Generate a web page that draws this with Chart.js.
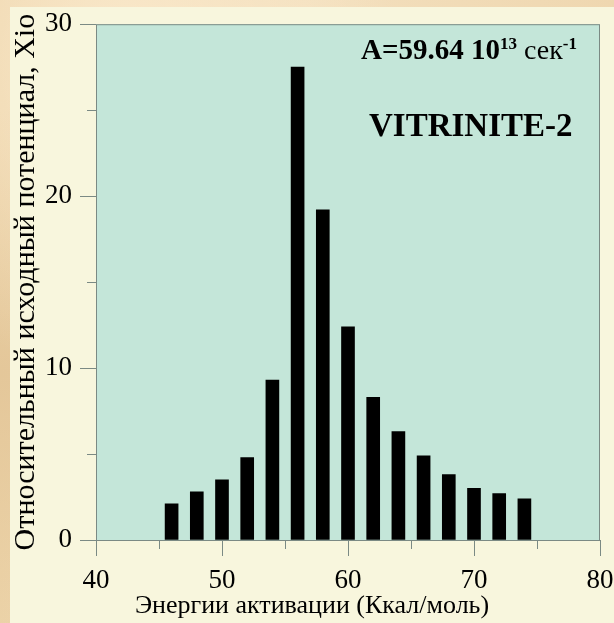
<!DOCTYPE html>
<html lang="ru">
<head>
  <meta charset="UTF-8">
  <title>VITRINITE-2</title>
  <script src="https://cdn.jsdelivr.net/npm/chart.js"></script>
  <style>
    html, body {
      margin: 0;
      padding: 0;
    }
    body {
      width: 614px;
      height: 623px;
      overflow: hidden;
      position: relative;
      background:
        radial-gradient(ellipse at 20% 10%, rgba(255,240,215,0.7), rgba(255,240,215,0) 40%),
        radial-gradient(ellipse at 0% 60%, rgba(226,196,150,0.8), rgba(226,196,150,0) 50%),
        linear-gradient(90deg, #ecd3a8, #f3dfbd 50%, #efd7b0);
    }
    .panel {
      position: absolute;
      left: 10px;
      top: 7px;
      right: 0;
      bottom: 0;
      background: #f8f6dd;
    }
    #chart {
      position: absolute;
      left: 0;
      top: 0;
    }
  </style>
</head>
<body>
  <div class="panel"></div>
  <canvas id="chart" width="614" height="623"></canvas>

  <script>
    // energies (kcal/mol) and relative initial potential
    const energies = [46, 48, 50, 52, 54, 56, 58, 60, 62, 64, 66, 68, 70, 72, 74];
    const potentials = [2.1, 2.8, 3.5, 4.8, 9.3, 27.5, 19.2, 12.4, 8.3, 6.3, 4.9, 3.8, 3.0, 2.7, 2.4];

    const xLabelTicks = [40, 50, 60, 70, 80];
    const yLabelTicks = [0, 10, 20, 30];

    const serif = '"Liberation Serif", "Times New Roman", serif';
    const axisGrey = '#7b8a84';

    const plotBox = {
      id: 'plotBox',
      beforeDraw(chart) {
        const { ctx, chartArea: a } = chart;
        ctx.save();
        ctx.fillStyle = '#c4e6d9';
        ctx.fillRect(a.left, a.top, a.right - a.left, a.bottom - a.top);
        ctx.restore();
      },
      afterDraw(chart) {
        const { ctx, chartArea: a, scales } = chart;
        ctx.save();
        ctx.strokeStyle = axisGrey;
        ctx.lineWidth = 1;
        ctx.strokeRect(a.left + 0.5, a.top + 0.5, a.right - a.left - 1, a.bottom - a.top);

        // short minor ticks
        ctx.beginPath();
        for (let v = 45; v < 80; v += 10) {
          const x = Math.round(scales.x.getPixelForValue(v)) + 0.5;
          ctx.moveTo(x, a.bottom);
          ctx.lineTo(x, a.bottom + 9);
        }
        for (let v = 5; v < 30; v += 10) {
          const y = Math.round(scales.y.getPixelForValue(v)) + 0.5;
          ctx.moveTo(a.left, y);
          ctx.lineTo(a.left - 9, y);
        }
        ctx.stroke();

        ctx.fillStyle = '#000';
        ctx.textBaseline = 'alphabetic';

        // x axis title
        ctx.font = '26px ' + serif;
        ctx.textAlign = 'center';
        ctx.fillText('Энергии активации (Ккал/моль)', 312, 613);

        // annotation
        ctx.textAlign = 'left';
        let x = 361;
        const y = 59;
        const parts = [
          ['A=59.64 10', 'bold 29px ' + serif, 0],
          ['13', 'bold 17px ' + serif, -10],
          [' сек', '28px ' + serif, 0],
          ['-1', 'bold 17px ' + serif, -10]
        ];
        parts.forEach(([t, f, dy]) => {
          ctx.font = f;
          ctx.fillText(t, x, y + dy);
          x += ctx.measureText(t).width;
        });
        ctx.font = 'bold 33px ' + serif;
        ctx.fillText('VITRINITE-2', 369, 136);
        ctx.restore();
      }
    };

    const tickColor = ctx => (ctx.tick && ctx.tick.value % 10 === 0) ? axisGrey : 'rgba(0,0,0,0)';

    new Chart(document.getElementById('chart'), {
      type: 'bar',
      data: {
        datasets: [{
          data: energies.map((e, i) => ({ x: e, y: potentials[i] })),
          backgroundColor: '#000',
          borderWidth: 0,
          barThickness: 13
        }]
      },
      options: {
        responsive: false,
        animation: false,
        layout: { padding: { top: 22, right: 14, left: 0, bottom: 29 } },
        plugins: {
          legend: { display: false },
          tooltip: { enabled: false }
        },
        scales: {
          x: {
            type: 'linear',
            min: 40,
            max: 80,
            offset: false,
            border: { display: false },
            grid: { offset: false, drawOnChartArea: false, tickLength: 16, color: tickColor },
            ticks: {
              stepSize: 5,
              autoSkip: false,
              maxRotation: 0,
              padding: 9,
              color: '#000',
              font: { family: serif, size: 27 },
              callback: v => xLabelTicks.includes(v) ? String(v) : ''
            },
            afterFit: s => {
              s.height = 54;
              s.paddingLeft = 0;
              s.paddingRight = 0;
            }
          },
          y: {
            min: 0,
            max: 30,
            border: { display: false },
            grid: { drawOnChartArea: false, tickLength: 16, color: tickColor },
            ticks: {
              stepSize: 5,
              autoSkip: false,
              padding: 8,
              color: '#000',
              font: { family: serif, size: 27 },
              callback: v => yLabelTicks.includes(v) ? String(v) : ''
            },
            title: {
              display: true,
              text: 'Относительный исходный потенциал, Xio',
              color: '#000',
              font: { family: serif, size: 30 },
              padding: { top: 8, bottom: 0 }
            },
            afterFit: s => { s.width = 96; }
          }
        }
      },
      plugins: [plotBox]
    });
  </script>
</body>
</html>
